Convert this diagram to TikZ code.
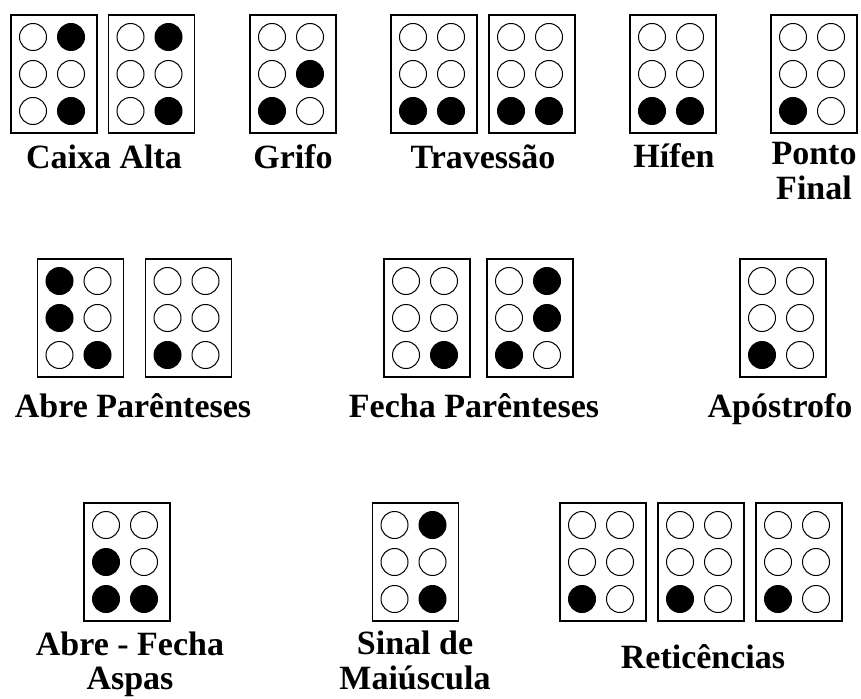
\documentclass[tikz,border=0pt]{standalone}
\usepackage{fontspec}
\setmainfont{Liberation Serif}
\usetikzlibrary{calc}

% one braille cell: name, x, y, six dots (1 = raised)
\newcommand{\cela}[4]{%
  \node[cellbox] (#1) at (#2,#3) {};
  \foreach \v [count=\i from 0] in {#4} {
    \pgfmathtruncatemacro{\col}{mod(\i,2)}
    \pgfmathtruncatemacro{\lin}{\i/2}
    \path[dot\v] ($(#1.center)+(-21+38*\col,-37+37*\lin)$) circle[radius=13.5pt];
  }%
}

\begin{document}
\begin{tikzpicture}[x=1pt, y=-1pt]
  \tikzstyle{cellbox}=[draw, line width=1.5pt, minimum width=86pt, minimum height=118pt, inner sep=0pt]
  \tikzstyle{dot0}=[draw, line width=1pt, fill=white]
  \tikzstyle{dot1}=[draw, line width=1pt, fill=black]
  \tikzstyle{lbl}=[font=\bfseries\fontsize{34}{35}\selectfont, anchor=base, inner sep=0pt]
  \fill[white] (0,0) rectangle (861,698);
  \useasboundingbox (0,0) rectangle (861,698);

  % first row
  \cela{caixaA}{54}{74}{0,1,0,0,0,1}
  \cela{caixaB}{151.5}{74}{0,1,0,0,0,1}
  \node[lbl] (lcaixa) at (104,168) {Caixa Alta};
  \cela{grifo}{293}{74}{0,0,0,1,1,0}
  \node[lbl] (lgrifo) at (293,168) {Grifo};
  \cela{travA}{434}{74}{0,0,0,0,1,1}
  \cela{travB}{532}{74}{0,0,0,0,1,1}
  \node[lbl] (ltrav) at (483,168) {Travessão};
  \cela{hifen}{673}{74}{0,0,0,0,1,1}
  \node[lbl] (lhifen) at (674,167) {Hífen};
  \cela{ponto}{814}{74}{0,0,0,0,1,0}
  \node[lbl] (lponto) at (814,164) {Ponto};
  \node[lbl] (lfinal) at (814,199) {Final};

  % second row
  \cela{abreA}{80.5}{318}{1,0,1,0,0,1}
  \cela{abreB}{188.5}{318}{0,0,0,0,1,0}
  \node[lbl] (labre) at (133,417) {Abre Parênteses};
  \cela{fechaA}{427}{318}{0,0,0,0,0,1}
  \cela{fechaB}{530}{318}{0,1,0,1,1,0}
  \node[lbl] (lfecha) at (474,417) {Fecha Parênteses};
  \cela{apos}{783}{318}{0,0,0,0,1,0}
  \node[lbl] (lapos) at (780,417) {Apóstrofo};

  % third row
  \cela{aspas}{127}{562}{0,0,1,0,1,1}
  \node[lbl] (laspasA) at (130,655) {Abre - Fecha};
  \node[lbl] (laspasB) at (130,689) {Aspas};
  \cela{sinal}{415.5}{562}{0,1,0,0,0,1}
  \node[lbl] (lsinalA) at (415,654) {Sinal de};
  \node[lbl] (lsinalB) at (415,689) {Maiúscula};
  \cela{retA}{603}{562}{0,0,0,0,1,0}
  \cela{retB}{701}{562}{0,0,0,0,1,0}
  \cela{retC}{799}{562}{0,0,0,0,1,0}
  \node[lbl] (lret) at (703,668) {Reticências};
\end{tikzpicture}
\end{document}
